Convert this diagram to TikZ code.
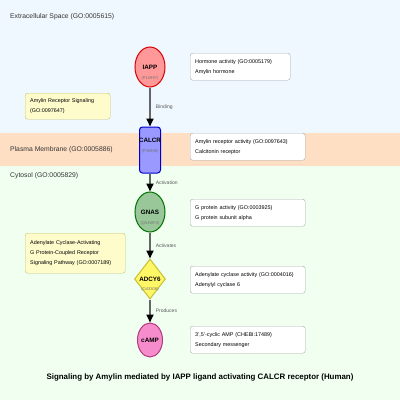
\documentclass[tikz,border=0pt]{standalone}
\usepackage{fontspec}
\setmainfont{Liberation Sans}
\usetikzlibrary{shapes.geometric,arrows.meta}
\definecolor{extrabg}{HTML}{F0F8FF}
\definecolor{membranebg}{HTML}{FFDFC4}
\definecolor{cytosolbg}{HTML}{F0FFF0}
\definecolor{regiontext}{HTML}{333333}
\definecolor{edgegray}{HTML}{666666}
\definecolor{boxgray}{HTML}{AAAAAA}
\tikzset{ region/.style = { anchor = west % compartment label
        , inner sep = 0pt
        , text = regiontext
        , font = \fontsize{6.8}{8}\selectfont
        }
        , info/.style = { rectangle % right info box
        , rounded corners = 2.5pt
        , draw = boxgray
        , fill = white
        , anchor = north west
        , align = left
        , inner xsep = 5pt
        , minimum height = 27pt
        , text width = 105pt
        , font = \fontsize{5.4}{10}\selectfont
        }
        , note/.style = { rectangle % left process box
        , rounded corners = 2.5pt
        , draw = boxgray!70!yellow
        , fill = yellow!20
        , anchor = north west
        , align = left
        , inner xsep = 5pt
        , font = \fontsize{5.4}{10}\selectfont
        }
        }

\begin{document}
\begin{tikzpicture}[x=1pt, y=-1pt,
        node_style/.style={draw, line width=1pt, inner sep=0pt, font=\fontsize{6.3}{7}\selectfont\bfseries},
        name_style/.style={inner sep=0pt, font=\fontsize{6.3}{7}\selectfont\bfseries},
        id_style/.style={inner sep=0pt, text=black!55, font=\fontsize{4.1}{5}\selectfont},
        edge_node_style/.style={draw=none, fill=none, midway, anchor=west, inner sep=0pt, xshift=5pt, text=black!65, font=\fontsize{5}{6}\selectfont},
        edge_style/.style={draw=edgegray, line width=1.8pt, -{Triangle[black, width=7pt, length=8pt]}}]
        \useasboundingbox (0,0) rectangle (400,400);
        % compartments
        \fill[extrabg] (0,0) rectangle (400,133);
        \fill[membranebg] (0,133) rectangle (400,166);
        \fill[cytosolbg] (0,166) rectangle (400,400);
        \node [region] (extra) at (10,17) {Extracellular Space (GO:0005615)};
        \node [region] (membrane) at (10,150) {Plasma Membrane (GO:0005886)};
        \node [region] (cytosol) at (10,176) {Cytosol (GO:0005829)};

        \node [node_style, ellipse, draw=red!85!black, fill=red!40, minimum width=30pt, minimum height=40pt,
            label={[id_style, yshift=-11pt]center:(P10997)}] (iapp) at (150,67) {IAPP};
        \node [node_style, rectangle, rounded corners=3pt, draw=blue!80!black, fill=blue!40, minimum width=21pt, minimum height=46pt,
            label={[name_style, yshift=10pt]center:CALCR},
            label={[id_style, yshift=-1pt]center:(P30988)}] (calcr) at (150,150) {};
        \node [node_style, ellipse, draw=green!45!black, fill=green!45!black!40!white, minimum width=30pt, minimum height=40pt,
            label={[id_style, yshift=-11pt]center:(Q5JWF2)}] (gnas) at (150,212) {GNAS};
        \node [node_style, diamond, shape aspect=0.78, draw=yellow!75!black, fill=yellow!60, minimum width=31pt, minimum height=40pt,
            label={[id_style, yshift=-10pt]center:(O43306)}] (adcy6) at (150,279) {ADCY6};
        \node [node_style, ellipse, draw=magenta!70!black, fill=magenta!45, minimum width=25pt, minimum height=34pt] (camp) at (150,340) {cAMP};

        \draw [edge_style] (iapp) -- (calcr) node [edge_node_style] {Binding};
        \draw [edge_style] (calcr) -- (gnas) node [edge_node_style] {Activation};
        \draw [edge_style] (gnas) -- (adcy6) node [edge_node_style] {Activates};
        \draw [edge_style] (adcy6) -- (camp) node [edge_node_style] {Produces};

        % function boxes
        \node [info, text width=90pt] (iapp_info) at (190,53) {Hormone activity (GO:0005179)\\Amylin hormone};
        \node [info] (calcr_info) at (190,133) {Amylin receptor activity (GO:0097643)\\Calcitonin receptor};
        \node [info] (gnas_info) at (190,199) {G protein activity (GO:0003925)\\G protein subunit alpha};
        \node [info] (adcy6_info) at (190,266) {Adenylate cyclase activity (GO:0004016)\\Adenylyl cyclase 6};
        \node [info] (camp_info) at (190,326) {3',5'-cyclic AMP (CHEBI:17489)\\Secondary messenger};

        \node [note, text width=75pt, minimum height=26pt] (signaling) at (25,93) {Amylin Receptor Signaling\\(GO:0097647)};
        \node [note, text width=90pt, minimum height=40pt] (pathway) at (25,233) {Adenylate Cyclase-Activating\\G Protein-Coupled Receptor\\Signaling Pathway (GO:0007189)};

        \node [font=\fontsize{7.9}{9}\selectfont\bfseries] (title) at (200,377) {Signaling by Amylin mediated by IAPP ligand activating CALCR receptor (Human)};
\end{tikzpicture}
\end{document}
